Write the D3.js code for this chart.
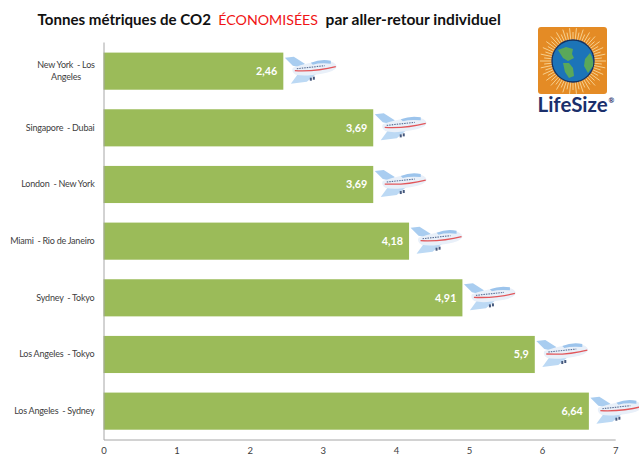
<!DOCTYPE html>
<html><head><meta charset="utf-8">
<script src="https://cdn.jsdelivr.net/npm/d3@7/dist/d3.min.js"></script>
<style>html,body{margin:0;padding:0;background:#fff}svg{display:block}text{font-family:Lato,"Open Sans",sans-serif}</style>
</head><body><svg id="c" width="639" height="457"></svg>
<script>
const routes=[["New York  - Los","Angeles"],["Singapore  - Dubai"],["London  - New York"],["Miami  - Rio de Janeiro"],["Sydney  - Tokyo"],["Los Angeles  - Tokyo"],["Los Angeles  - Sydney"]];
const values=[2.46,3.69,3.69,4.18,4.91,5.9,6.64];
const valueLabels=["2,46","3,69","3,69","4,18","4,91","5,9","6,64"];
const xTicks=[0,1,2,3,4,5,6,7];

const svg=d3.select("#c");
const defs=svg.append("defs");
defs.append("filter").attr("id","soft").append("feGaussianBlur").attr("stdDeviation",0.5);
const x=d3.scaleLinear().domain([0,7]).range([103.5,615.2]);
const y=d3.scaleBand().domain(d3.range(routes.length)).range([42,439.5]).paddingInner(0.345).paddingOuter(0.18);

// title
const t=svg.append("text").attr("x",37.5).attr("y",25).attr("font-size",15.1).attr("font-weight",700).attr("fill","#111").style("white-space","pre");
t.append("tspan").text("Tonnes métriques de CO2  ");
t.append("tspan").attr("fill","#f01414").attr("font-weight",400).attr("font-size",14.2).text("ÉCONOMISÉES");
t.append("tspan").attr("font-size",15.55).text("  par aller-retour individuel");

// bars
svg.selectAll("rect.bar").data(values).join("rect").attr("class","bar")
 .attr("x",x(0)).attr("y",(d,i)=>y(i)+0.4).attr("width",d=>x(d)-x(0)).attr("height",y.bandwidth())
 .attr("fill","#9bbb59");

// axes
const xAxis=svg.append("g").attr("transform","translate(0,439.5)").call(d3.axisBottom(x).tickValues(xTicks).tickSize(0).tickPadding(8).tickFormat(d3.format("d")));
xAxis.select(".domain").attr("stroke","#a6a6a6").attr("stroke-width",1);
xAxis.selectAll("text").attr("font-size",9.5).attr("fill","#404040").style("font-family","Lato");
const yAxis=svg.append("g").attr("transform","translate(103.5,0)").call(d3.axisLeft(y).tickSize(0).tickFormat(""));
yAxis.select(".domain").attr("stroke","#a6a6a6").attr("stroke-width",1);

// category labels
routes.forEach((lines,i)=>{
  const cy=y(i)+y.bandwidth()/2;
  const multi=lines.length>1;
  const g=svg.append("text").attr("font-size",9).attr("fill","#404040").style("white-space","pre")
    .style("letter-spacing","-0.2px").style("word-spacing","-0.2px")
    .attr("text-anchor",multi?"middle":"end");
  lines.forEach((s,k)=>g.append("tspan").attr("x",multi?66:94.5).attr("y",cy+3.3+(k-(lines.length-1)/2)*12).text(s));
});

// value labels
svg.selectAll("text.val").data(values).join("text").attr("class","val")
 .attr("x",d=>x(d)-6).attr("y",(d,i)=>y(i)+y.bandwidth()/2+4.2).attr("text-anchor","end")
 .attr("font-size",10.8).attr("font-weight",700).attr("fill","#fff").text((d,i)=>valueLabels[i]);

// plane pictogram
function plane(g){
  g.attr("filter","url(#soft)");
  g.append("path").attr("d","M0 1 L9 0 L20 7 L17 11 L8 9 Z").attr("fill","#a9cdf0");
  g.append("path").attr("d","M14 16 L34 15 L22 25 L6 27 Z").attr("fill","#bcd9f4");
  g.append("path").attr("d","M8 11 Q24 5 42 4 Q51 5 52 10 Q50 15 37 17 Q20 20 11 18 Q6 15 8 11 Z").attr("fill","#e9f0f9");
  g.append("path").attr("d","M26 6 Q36 2 46 4 L46 7 Q35 6 28 8 Z").attr("fill","#9cc4ec");
  g.append("path").attr("d","M10 14 Q32 15 51 10").attr("fill","none").attr("stroke","#e2565a").attr("stroke-width",1.3);
  g.append("path").attr("d","M12 12 L40 9").attr("fill","none").attr("stroke","#5a6f95").attr("stroke-width",1.1).attr("stroke-dasharray","1.5 1");
  g.append("rect").attr("x",25).attr("y",21).attr("width",2).attr("height",3).attr("fill","#44587d");
  g.append("rect").attr("x",28).attr("y",20).attr("width",2).attr("height",3).attr("fill","#44587d");
}
values.forEach((d,i)=>{
  plane(svg.append("g").attr("transform",`translate(${x(d)+1.5},${y(i)+4.5})`));
});

// logo
const logo=svg.append("g");
logo.append("rect").attr("x",538).attr("y",27).attr("width",69).attr("height",67).attr("rx",3).attr("fill","#e48b25");
const cx=573,cy=61;
d3.range(0,360,6).forEach(a=>{
  const r=a*Math.PI/180,long=a%12===0?33:29;
  logo.append("line").attr("x1",cx+20*Math.cos(r)).attr("y1",cy+20*Math.sin(r)).attr("x2",cx+long*Math.cos(r)).attr("y2",cy+long*Math.sin(r)).attr("stroke","#f8d79a").attr("stroke-width",0.9);
});
logo.append("circle").attr("cx",cx).attr("cy",cy).attr("r",21).attr("fill","#1c74b8").attr("stroke","#14305f").attr("stroke-width",1.3);
logo.append("path").attr("d","M558 50 L566 47 L573 49 L572 54 L574 58 L568 61 L563 58 Z").attr("fill","#5aa85a");
logo.append("path").attr("d","M563 63 L569 63 L573 68 L574 76 L569 78 L565 72 Z").attr("fill","#5aa85a");
logo.append("path").attr("d","M590 53 Q594 60 593 66 L588 73 L584 66 L585 59 Z").attr("fill","#5aa85a");
logo.append("text").attr("x",537.5).attr("y",112).attr("font-size",20.5).attr("font-weight",700).attr("fill","#1b2f6b").text("LifeSize");
logo.append("text").attr("x",608.5).attr("y",103).attr("font-size",7).attr("font-weight",700).attr("fill","#1b2f6b").text("®");
</script></body></html>
